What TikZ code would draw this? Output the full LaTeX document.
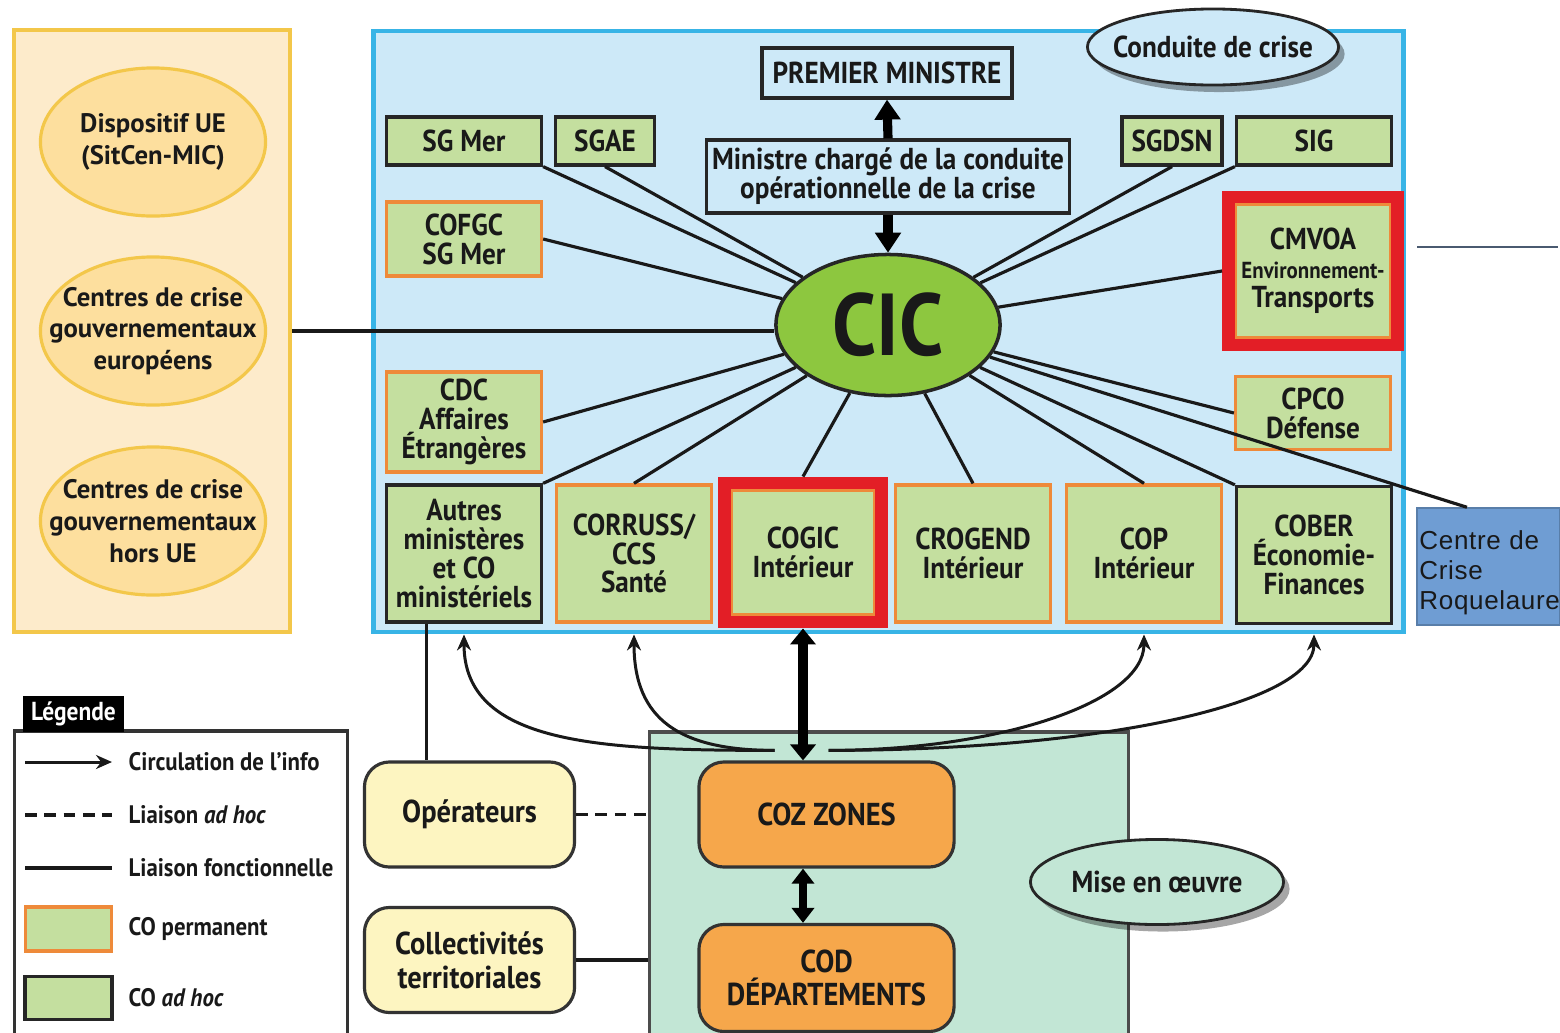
\documentclass[tikz,border=0pt]{standalone}
\usepackage{fontspec}
\setmainfont{PT Sans}
\newfontfamily\condfont[FakeStretch=0.9]{PT Sans}
\newfontfamily\rqfont[LetterSpace=2.5]{Liberation Sans}
\usepackage{tikz}
\usetikzlibrary{arrows.meta,calc,positioning,fit,shapes.geometric,shadows}
\definecolor{peach}{HTML}{FDEBCB}
\definecolor{gold}{HTML}{F3C74A}
\definecolor{goldfill}{HTML}{FDDF9E}
\definecolor{skyfill}{HTML}{CDE9F8}
\definecolor{skyline}{HTML}{38B4E6}
\definecolor{leaf}{HTML}{C4DF9F}
\definecolor{cicgreen}{HTML}{8DC73F}
\definecolor{orangeline}{HTML}{EE8A3A}
\definecolor{alertred}{HTML}{E31E26}
\definecolor{mint}{HTML}{C2E6D5}
\definecolor{cozorange}{HTML}{F6A74B}
\definecolor{paleyellow}{HTML}{FDF5C1}
\definecolor{steel}{HTML}{6F9DD3}
\definecolor{slate}{HTML}{4A5A70}

\tikzset{
  coperm/.style={draw=orangeline, fill=leaf, line width=0.9pt, inner sep=0pt, align=center, minimum width=1.55cm},
  coadhoc/.style={coperm, draw=black!85},
  redframe/.style={draw=alertred, line width=3.6pt, inner sep=0.055cm},
  govbox/.style={draw=black!85, fill=skyfill, line width=0.9pt, inner sep=0pt, align=center},
  euoval/.style={ellipse, draw=gold, fill=goldfill, line width=0.9pt, inner xsep=-0.3cm, inner ysep=0pt, align=center,
    minimum width=2.25cm, minimum height=1.48cm, font=\normalfont\bfseries\fontsize{7.6}{9}\selectfont},
  roundbox/.style={rounded corners=2.5mm, draw=black!80, line width=0.9pt, inner sep=0pt, align=center,
    minimum width=2.55cm, minimum height=1.05cm, font=\condfont\bfseries\fontsize{9}{9.6}\selectfont},
  tagoval/.style={ellipse, draw=black!85, line width=0.8pt, inner xsep=-0.3cm, inner ysep=0pt,
    drop shadow={shadow xshift=0.6mm, shadow yshift=-0.7mm, opacity=0.35, fill=black},
    font=\condfont\bfseries\fontsize{8.6}{9}\selectfont},
  link/.style={line width=0.9pt, black!90},
  adhocline/.style={link, dash pattern=on 3.3pt off 2.2pt},
  info/.style={line width=0.85pt, black!90, -{Stealth[length=1.6mm,width=1.4mm]}},
  bigarrow/.style={line width=2.6pt, -{Triangle[length=2mm,width=2.5mm]}},
  dblarrow/.style={line width=2.6pt, {Triangle[length=1.6mm,width=2.5mm]}-{Triangle[length=1.6mm,width=2.5mm]}},
  smallarrow/.style={line width=2.2pt, {Triangle[length=1.5mm,width=2.2mm]}-{Triangle[length=1.5mm,width=2.2mm]}},
  legtext/.style={anchor=west, inner sep=0pt, font=\condfont\bfseries\fontsize{7.2}{8}\selectfont}
}

\begin{document}
\begin{tikzpicture}[x=0.01cm,y=-0.01cm,
  every node/.style={font=\condfont\bfseries\fontsize{8.6}{8.2}\selectfont, text=black!90}]
\clip (0,0) rectangle (1560,1033);
% the three panels
\node[draw=gold, fill=peach, line width=1.3pt, minimum width=2.76cm, minimum height=6.02cm] (leftpanel) at (152,331) {};
\node[draw=skyline, fill=skyfill, line width=1.3pt, minimum width=10.29cm, minimum height=6.01cm] (bluepanel) at (888.5,331.5) {};
\node[draw=black!70, fill=mint, line width=0.9pt, minimum width=4.78cm, minimum height=3.2cm] (misepanel) at (889,892) {};

% european side
\node[euoval] (dispo) at (153,142) {Dispositif UE\\(SitCen-MIC)};
\node[euoval] (europ) at (153,331) {Centres de crise\\gouvernementaux\\européens};
\node[euoval] (horsue) at (153,521) {Centres de crise\\gouvernementaux\\hors UE};

% conduite de crise
\node[govbox, minimum width=2.5cm, minimum height=0.5cm] (pm) at (887,73) {PREMIER MINISTRE};
\node[govbox, minimum width=3.62cm, minimum height=0.73cm] (ministre) at (888,176.5) {Ministre chargé de la conduite\\opérationnelle de la crise};
\node[ellipse, draw=black!85, fill=cicgreen, line width=1pt, inner sep=0pt, minimum width=2.24cm, minimum height=1.41cm,
  font=\condfont\bfseries\fontsize{25}{25}\selectfont] (cic) at (888,325) {CIC};
\draw[bigarrow] (ministre.north) -- (pm.south);
\draw[bigarrow] (ministre.south) -- (cic.north);

\node[coadhoc, minimum height=0.48cm] (sgmer) at (464,141) {SG Mer};
\node[coadhoc, minimum width=0.99cm, minimum height=0.48cm] (sgae) at (605,141) {SGAE};
\node[coadhoc, minimum width=1.0cm, minimum height=0.48cm] (sgdsn) at (1172,141) {SGDSN};
\node[coadhoc, minimum height=0.48cm] (sig) at (1314,141) {SIG};
\node[coperm, minimum height=0.74cm] (cofgc) at (464,239) {COFGC\\SG Mer};
\node[coperm, minimum height=1.34cm] (cmvoa) at (1313,271) {CMVOA\\{\fontsize{6.6}{7}\selectfont Environnement-}\\Transports};
\node[redframe, fit=(cmvoa)] (cmvoaframe) {};
\node[coperm, minimum height=1.0cm] (cdc) at (464,422) {CDC\\Affaires\\Étrangères};
\node[coperm, minimum height=0.73cm] (cpco) at (1313,413) {CPCO\\Défense};

% bottom row
\node[coadhoc, minimum height=1.37cm] (autres) at (464,553.5) {Autres\\ministères\\et CO\\ministériels};
\node[coperm, minimum height=1.37cm] (corruss) at (634,553.5) {CORRUSS/\\CCS\\Santé};
\node[coperm, minimum width=1.43cm, minimum height=1.25cm] (cogic) at (803,552.5) {COGIC\\Intérieur};
\node[redframe, fit=(cogic)] (cogicframe) {};
\node[coperm, minimum height=1.37cm] (crogend) at (973,553.5) {CROGEND\\Intérieur};
\node[coperm, minimum height=1.37cm] (cop) at (1144,553.5) {COP\\Intérieur};
\node[coadhoc, minimum height=1.37cm] (cober) at (1314,555) {COBER\\Économie-\\Finances};

\node[draw=steel!80!black, fill=steel, line width=0.4pt, minimum width=1.43cm, minimum height=1.17cm, text width=1.38cm,
  align=left, inner sep=0.25mm, font=\rqfont\fontsize{7.4}{8.6}\selectfont] (roque) at (1488.5,566.5) {\rule{0pt}{9pt}Centre de\\Crise\\Roquelaure};
\draw[line width=0.5pt, slate] (1417,247) -- (1558,247);

% links to the CIC
\draw[link] (leftpanel.east) -- (leftpanel.east -| cic.west);
\draw[link] (sgmer.south east) -- (cic);
\draw[link] (sgae.south) -- (cic);
\draw[link] (cofgc.east) -- (cic);
\draw[link] (cdc.east) -- (cic);
\draw[link] (autres.north east) -- (cic);
\draw[link] (corruss.north) -- (cic);
\draw[link] (cogicframe.north) -- (cic);
\draw[link] (crogend.north) -- (cic);
\draw[link] (cop.north) -- (cic);
\draw[link] (cober.north west) -- (cic);
\draw[link] (cpco.west) -- (cic);
\draw[link] (cmvoaframe.west) -- (cic);
\draw[link] (sgdsn.south) -- (cic);
\draw[link] (sig.south west) -- (cic);
\draw[link] (roque.110) -- (cic);

% mise en oeuvre
\node[roundbox, fill=cozorange] (coz) at (826.5,814.5) {COZ ZONES};
\node[roundbox, fill=cozorange, minimum height=1.07cm] (cod) at (826.5,978) {COD\\DÉPARTEMENTS};
\draw[dblarrow] (cogicframe.south) -- (cogicframe.south |- coz.north);
\draw[smallarrow] (coz.south -| cogicframe.south) -- (cod.north -| cogicframe.south);

\node[roundbox, fill=paleyellow, minimum width=2.1cm] (ope) at (469.5,814.5) {Opérateurs};
\node[roundbox, fill=paleyellow, minimum width=2.1cm] (coll) at (469.5,960) {Collectivités\\territoriales};
\draw[adhocline] (ope.east) -- (ope.east -| misepanel.west);
\draw[link] (coll.east) -- (coll.east -| misepanel.west);
\draw[link] (autres.242) -- (autres.242 |- ope.north);

\coordinate (fanL) at ($(coz.north)+(-52,-10)$);
\coordinate (fanR) at ($(coz.north)+(2,-10)$);
\draw[info] (fanL) .. controls +(-175,0) and +(0,110) .. (autres.south |- bluepanel.south);
\draw[info] (fanL) .. controls +(-95,0) and +(0,85) .. (corruss.south |- bluepanel.south);
\draw[info] (fanR) .. controls +(170,0) and +(0,68) .. (cop.south |- bluepanel.south);
\draw[info] (fanR) .. controls +(270,0) and +(0,70) .. (cober.south |- bluepanel.south);

\node[tagoval, fill=skyfill, minimum width=2.51cm, minimum height=0.76cm] (conduite) at (1213,47) {Conduite de crise};
\node[tagoval, fill=mint, minimum width=2.53cm, minimum height=0.85cm] (mise) at (1157,882) {Mise en œuvre};

% legend
\node[draw=black!80, line width=0.9pt, minimum width=3.32cm, minimum height=3.2cm] (legbox) at (181,891) {};
\node[fill=black, text=white, minimum width=1.0cm, minimum height=0.35cm, inner sep=0pt,
  font=\condfont\bfseries\fontsize{7.4}{8}\selectfont] (legtab) at (73.5,714) {Légende};
\draw[info] (25,762) -- (112,762);
\node[legtext] (leginfo) at (128,762) {Circulation de l’info};
\draw[adhocline] (25,815) -- (112,815);
\node[legtext] (legadhoc) at (128,815) {Liaison \textit{ad hoc}};
\draw[link] (25,868) -- (112,868);
\node[legtext] (legfonc) at (128,868) {Liaison fonctionnelle};
\node[coperm, minimum width=0.86cm, minimum height=0.44cm] (legperm) at (68.5,929) {};
\node[legtext] (legpermtext) at (128,929) {CO permanent};
\node[coadhoc, minimum width=0.87cm, minimum height=0.43cm] (legco) at (68.5,998) {};
\node[legtext] (legcotext) at (128,998) {CO \textit{ad hoc}};
\end{tikzpicture}
\end{document}
